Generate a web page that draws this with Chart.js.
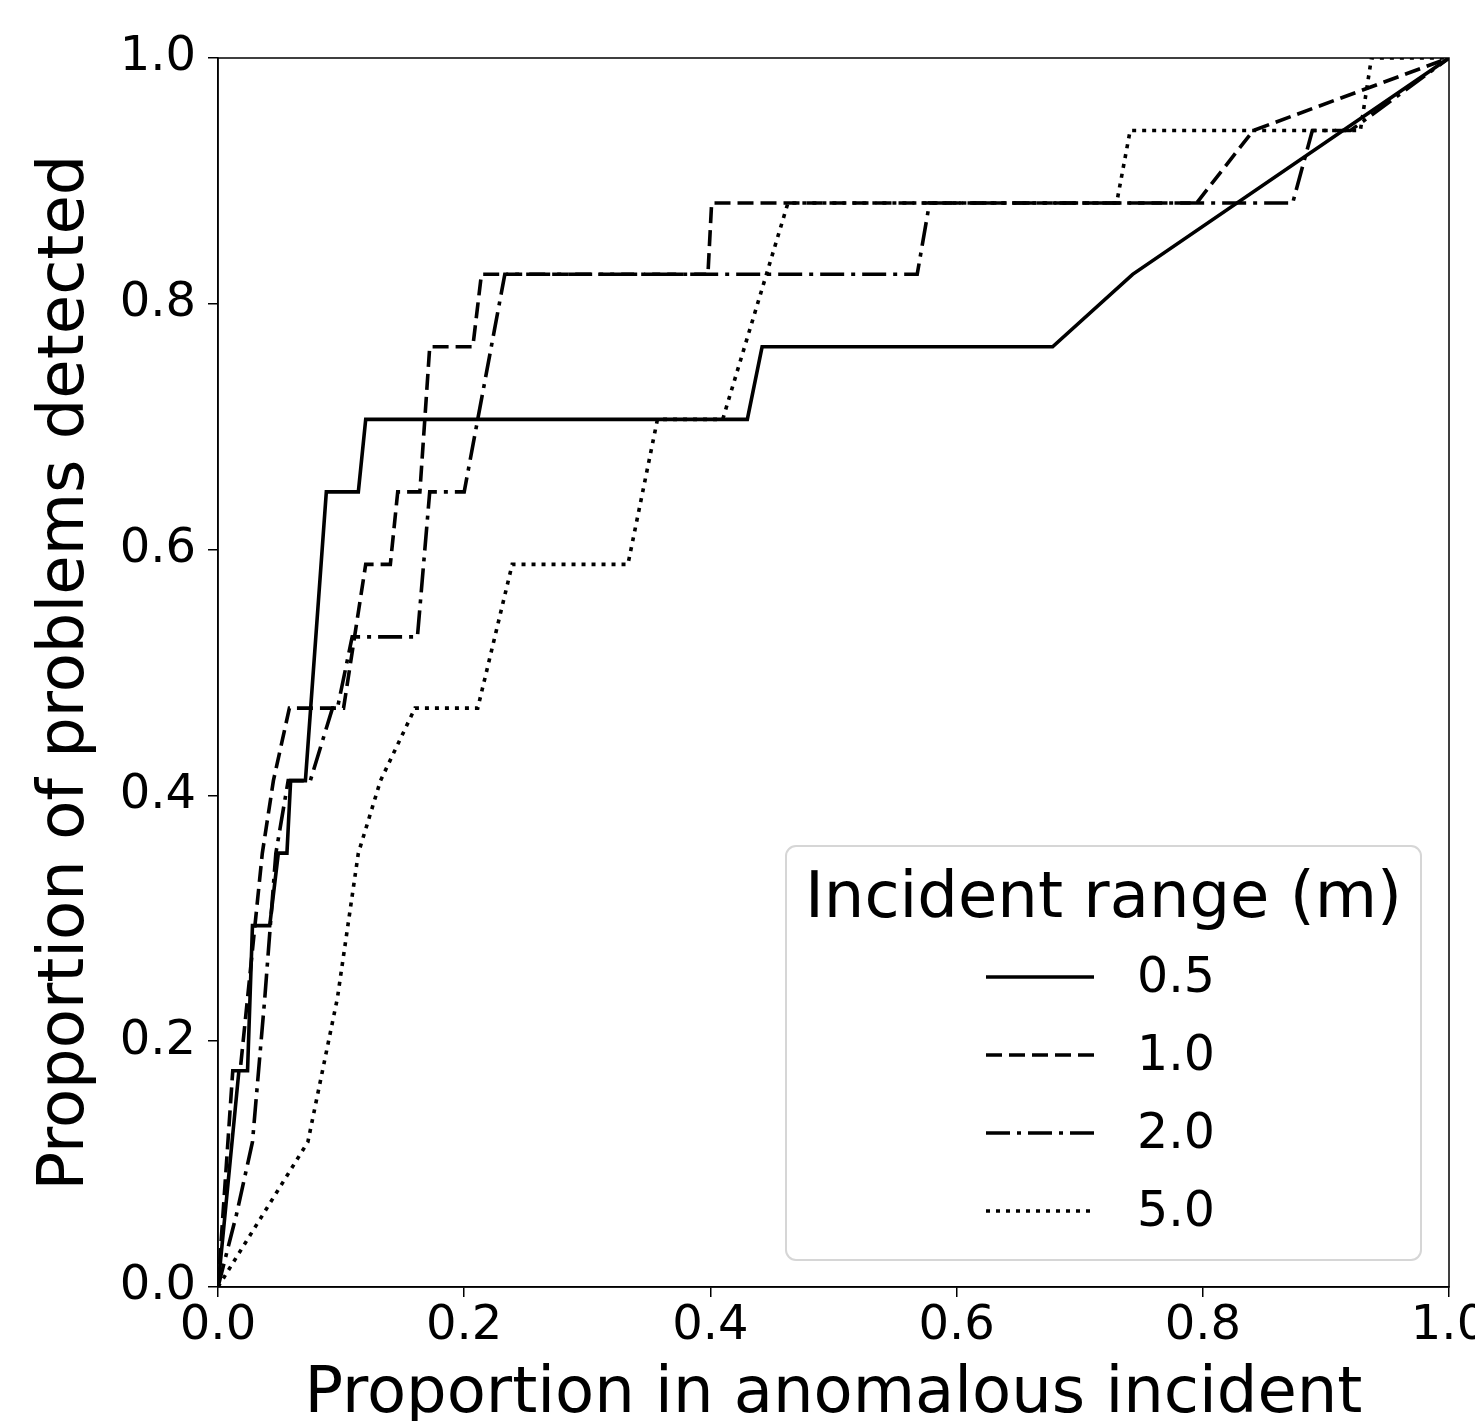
<!DOCTYPE html>
<html>
<head>
<meta charset="utf-8">
<title>Proportion of problems detected</title>
<script src="https://cdn.jsdelivr.net/npm/chart.js@4.4.1/dist/chart.umd.min.js"></script>
<style>
  html, body { margin: 0; padding: 0; background: #fff; }
  #wrap { width: 1475px; height: 1421px; }
</style>
</head>
<body>
<div id="wrap"><canvas id="chart" width="1475" height="1421"></canvas></div>
<script>
// values (x = proportion in anomalous incident, y = proportion detected)
const seriesLabels = ['0.5', '1.0', '2.0', '5.0'];

const r05X = [0, 0.017, 0.024, 0.028, 0.042, 0.049, 0.056, 0.059, 0.071, 0.088, 0.114, 0.12, 0.43, 0.442, 0.678, 0.743, 1.0];
const r05Y = [0, 0.176, 0.176, 0.294, 0.294, 0.353, 0.353, 0.412, 0.412, 0.647, 0.647, 0.706, 0.706, 0.765, 0.765, 0.824, 1.0];

const r10X = [0, 0.012, 0.018, 0.036, 0.045, 0.058, 0.102, 0.12, 0.14, 0.146, 0.164, 0.172, 0.207, 0.214, 0.398, 0.401, 0.795, 0.841, 1.0];
const r10Y = [0, 0.176, 0.176, 0.353, 0.412, 0.471, 0.471, 0.588, 0.588, 0.647, 0.647, 0.765, 0.765, 0.824, 0.824, 0.882, 0.882, 0.941, 1.0];

const r20X = [0, 0.015, 0.028, 0.038, 0.047, 0.057, 0.075, 0.093, 0.097, 0.109, 0.162, 0.172, 0.2, 0.233, 0.568, 0.578, 0.873, 0.889, 0.92, 1.0];
const r20Y = [0, 0.059, 0.118, 0.235, 0.353, 0.412, 0.412, 0.471, 0.471, 0.529, 0.529, 0.647, 0.647, 0.824, 0.824, 0.882, 0.882, 0.941, 0.941, 1.0];

const r50X = [0, 0.073, 0.097, 0.114, 0.132, 0.16, 0.211, 0.239, 0.333, 0.357, 0.41, 0.463, 0.73, 0.741, 0.928, 0.937, 1.0];
const r50Y = [0, 0.118, 0.235, 0.353, 0.412, 0.471, 0.471, 0.588, 0.588, 0.706, 0.706, 0.882, 0.882, 0.941, 0.941, 1.0, 1.0];

const xTicks = [0, 0.2, 0.4, 0.6, 0.8, 1.0];
const yTicks = [0, 0.2, 0.4, 0.6, 0.8, 1.0];

const FONT = "'DejaVu Sans', 'Liberation Sans', sans-serif";

function toPoints(xs, ys) {
    return xs.map((x, i) => ({ x: x, y: ys[i] }));
}

function lineSet(label, xs, ys, dash) {
    return {
        label: label,
        data: toPoints(xs, ys),
        borderColor: '#000',
        borderWidth: 3.6,
        borderDash: dash,
        pointRadius: 0,
        tension: 0,
        fill: false
    };
}

// top and right spines
const framePlugin = {
    id: 'frame',
    afterDatasetsDraw(chart) {
        const { ctx, chartArea: a } = chart;
        ctx.save();
        ctx.strokeStyle = '#000';
        ctx.lineWidth = 1.5;
        ctx.strokeRect(a.left, a.top, a.right - a.left, a.bottom - a.top);
        ctx.restore();
    }
};

// legend box in the lower right of the plot area
const boxLegend = {
    id: 'boxLegend',
    afterDraw(chart) {
        const { ctx, chartArea: a } = chart;
        const left = a.right - 663, top = a.bottom - 441;
        const w = 635, h = 414, r = 10;

        ctx.save();
        ctx.beginPath();
        ctx.roundRect(left, top, w, h, r);
        ctx.fillStyle = 'rgba(255,255,255,0.85)';
        ctx.fill();
        ctx.strokeStyle = '#d6d6d6';
        ctx.lineWidth = 2;
        ctx.stroke();

        ctx.fillStyle = '#000';
        ctx.font = '64px ' + FONT;
        ctx.textAlign = 'center';
        ctx.textBaseline = 'alphabetic';
        ctx.fillText('Incident range (m)', left + w / 2, top + 71);

        ctx.font = '49px ' + FONT;
        ctx.textAlign = 'left';
        ctx.textBaseline = 'middle';
        chart.data.datasets.forEach((ds, i) => {
            const y = top + 131 + i * 78;
            ctx.beginPath();
            ctx.setLineDash(ds.borderDash || []);
            ctx.strokeStyle = ds.borderColor;
            ctx.lineWidth = ds.borderWidth;
            ctx.moveTo(left + 200, y);
            ctx.lineTo(left + 308, y);
            ctx.stroke();
            ctx.setLineDash([]);
            ctx.fillText(ds.label, left + 351, y + 2);
        });
        ctx.restore();
    }
};

const ctx = document.getElementById('chart').getContext('2d');

new Chart(ctx, {
    type: 'line',
    data: {
        datasets: [
            lineSet(seriesLabels[0], r05X, r05Y, []),
            lineSet(seriesLabels[1], r10X, r10Y, [16, 7]),
            lineSet(seriesLabels[2], r20X, r20Y, [24, 7, 4, 7]),
            lineSet(seriesLabels[3], r50X, r50Y, [4, 6])
        ]
    },
    options: {
        responsive: false,
        animation: false,
        devicePixelRatio: 1,
        layout: { padding: { top: 58, right: 26, left: 0, bottom: 0 } },
        plugins: {
            legend: { display: false },
            tooltip: { enabled: false }
        },
        scales: {
            x: {
                type: 'linear',
                min: 0,
                max: 1,
                afterBuildTicks(s) { s.ticks = xTicks.map(v => ({ value: v })); },
                afterFit(s) { s.height = 134; s.paddingLeft = 0; s.paddingRight = 0; },
                grid: { drawOnChartArea: false, drawTicks: true, tickLength: 10, color: '#000', lineWidth: 1.5 },
                border: { display: true, color: '#000', width: 1.5 },
                ticks: {
                    color: '#000',
                    padding: 1,
                    maxRotation: 0,
                    autoSkip: false,
                    font: { family: FONT, size: 48 },
                    callback: v => Number(v).toFixed(1)
                },
                title: {
                    display: true,
                    text: 'Proportion in anomalous incident',
                    color: '#000',
                    padding: 0,
                    font: { family: FONT, size: 64, lineHeight: 0.8 }
                }
            },
            y: {
                type: 'linear',
                min: 0,
                max: 1,
                afterBuildTicks(s) { s.ticks = yTicks.map(v => ({ value: v })); },
                afterFit(s) { s.width = 218; s.paddingTop = 0; s.paddingBottom = 0; },
                grid: { drawOnChartArea: false, drawTicks: true, tickLength: 10, color: '#000', lineWidth: 1.5 },
                border: { display: true, color: '#000', width: 1.5 },
                ticks: {
                    color: '#000',
                    padding: 12,
                    autoSkip: false,
                    font: { family: FONT, size: 48 },
                    callback: v => Number(v).toFixed(1)
                },
                title: {
                    display: true,
                    text: 'Proportion of problems detected',
                    color: '#000',
                    padding: { top: 28, bottom: 0 },
                    font: { family: FONT, size: 64 }
                }
            }
        }
    },
    plugins: [framePlugin, boxLegend]
});
</script>
</body>
</html>
